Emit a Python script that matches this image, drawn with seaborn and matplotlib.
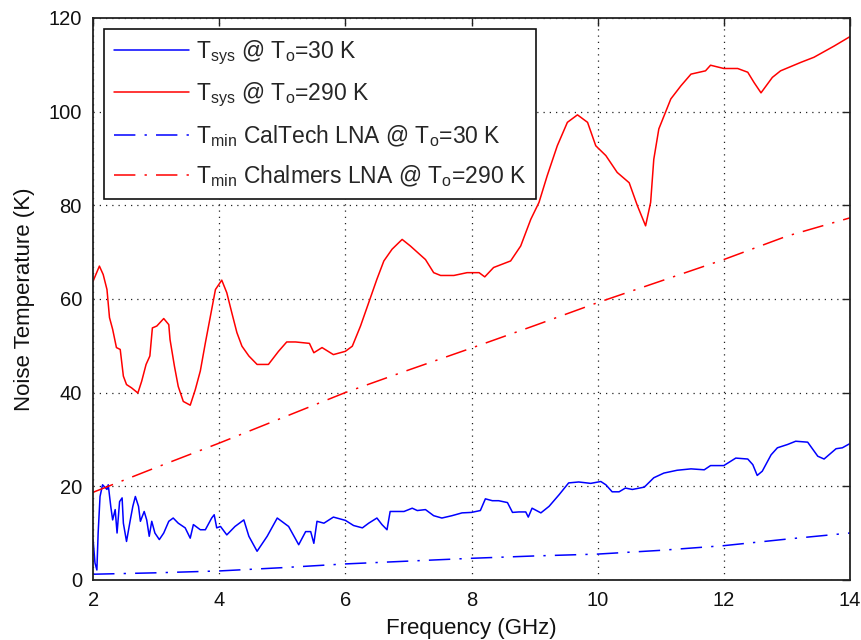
import matplotlib
matplotlib.use('Agg')
import matplotlib.pyplot as plt
import seaborn as sns

# Tsys @ To=30 K (blue solid)
blue_f = [2.0, 2.03, 2.06, 2.08, 2.11, 2.15, 2.22, 2.24, 2.28, 2.31, 2.35, 2.38, 2.42, 2.46, 2.48,
          2.53, 2.59, 2.63, 2.67, 2.72, 2.75, 2.81, 2.85, 2.89, 2.93, 2.98, 3.05, 3.12, 3.2, 3.27,
          3.35, 3.46, 3.54, 3.59, 3.7, 3.78, 3.88, 3.92, 3.96, 4.02, 4.12, 4.25, 4.39, 4.47, 4.6,
          4.76, 4.92, 5.1, 5.26, 5.37, 5.45, 5.5, 5.55, 5.66, 5.81, 6.0, 6.13, 6.27, 6.37, 6.5,
          6.58, 6.66, 6.71, 6.93, 7.06, 7.14, 7.27, 7.4, 7.53, 7.69, 7.85, 8.0, 8.14, 8.22, 8.33,
          8.43, 8.57, 8.65, 8.75, 8.86, 8.9, 8.96, 9.1, 9.23, 9.39, 9.54, 9.7, 9.89, 10.05, 10.13,
          10.23, 10.34, 10.44, 10.55, 10.74, 10.89, 11.05, 11.26, 11.48, 11.69, 11.79, 12.0, 12.19,
          12.38, 12.46, 12.53, 12.61, 12.75, 12.85, 13.01, 13.14, 13.33, 13.49, 13.59, 13.78, 13.88, 14.0]
blue_t = [8.6, 3.6, 2.1, 10.0, 17.8, 20.3, 19.3, 20.3, 15.7, 12.8, 15.0, 10.0, 16.7, 17.5, 12.1,
          8.2, 12.8, 15.7, 17.8, 15.7, 12.5, 14.6, 12.8, 9.3, 12.5, 10.0, 8.6, 10.0, 12.5, 13.2,
          12.1, 11.1, 8.9, 11.8, 10.7, 10.7, 13.2, 13.9, 11.1, 11.4, 9.6, 11.4, 12.8, 9.3, 6.1,
          9.3, 13.2, 11.4, 7.5, 10.3, 10.3, 7.8, 12.5, 12.1, 13.4, 12.7, 11.6, 11.1, 12.1, 13.2,
          11.8, 10.7, 14.6, 14.6, 15.3, 14.8, 15.0, 13.7, 13.2, 13.7, 14.3, 14.4, 14.8, 17.3, 16.9,
          16.9, 16.5, 14.4, 14.5, 14.5, 13.4, 15.3, 14.3, 15.7, 18.2, 20.7, 20.9, 20.6, 21.0, 20.3,
          18.8, 18.8, 19.6, 19.3, 19.8, 21.8, 22.8, 23.4, 23.7, 23.5, 24.4, 24.4, 26.0,
          25.8, 24.6, 22.3, 23.2, 26.7, 28.2, 28.9, 29.6, 29.4, 26.4, 25.8, 28.0, 28.2, 29.1]

# Tsys @ To=290 K (red solid)
red_f = [2.0, 2.1, 2.16, 2.22, 2.26, 2.31, 2.37, 2.43, 2.48, 2.53, 2.61, 2.71, 2.77, 2.84, 2.9,
         2.94, 3.01, 3.12, 3.2, 3.22, 3.29, 3.35, 3.43, 3.54, 3.62, 3.7, 3.78, 3.86, 3.94, 4.04,
         4.12, 4.2, 4.28, 4.36, 4.47, 4.6, 4.78, 4.94, 5.07, 5.21, 5.43, 5.5, 5.63, 5.81, 6.0,
         6.11, 6.24, 6.37, 6.5, 6.61, 6.74, 6.9, 7.03, 7.27, 7.4, 7.51, 7.72, 7.93, 8.12, 8.21,
         8.35, 8.62, 8.78, 8.94, 9.07, 9.2, 9.36, 9.52, 9.68, 9.84, 9.97, 10.13, 10.31, 10.5,
         10.63, 10.76, 10.84, 10.89, 10.97, 11.16, 11.32, 11.48, 11.71, 11.79, 12.0, 12.22, 12.38,
         12.48, 12.59, 12.77, 12.9, 13.22, 13.43, 13.75, 14.0]
red_t = [63.8, 67.0, 65.2, 62.0, 56.0, 53.5, 49.6, 49.2, 43.5, 41.7, 41.0, 39.9, 42.4, 46.0, 47.8,
         53.8, 54.2, 55.8, 54.5, 51.3, 45.6, 41.3, 38.1, 37.3, 40.6, 44.6, 50.6, 56.3, 62.0, 64.0,
         61.3, 57.0, 52.8, 49.9, 47.8, 46.0, 46.0, 48.8, 50.8, 50.8, 50.5, 48.5, 49.6, 48.1, 48.8,
         49.9, 54.2, 59.2, 64.2, 68.1, 70.6, 72.7, 71.3, 68.4, 65.6, 65.0, 65.0, 65.6, 65.6, 64.7,
         66.7, 68.1, 71.3, 77.0, 80.6, 86.3, 92.7, 97.7, 99.3, 97.7, 92.7, 90.6, 87.0, 84.8,
         79.9, 75.6, 80.6, 89.8, 96.3, 102.7, 105.5, 108.0, 108.7, 109.9, 109.2, 109.2, 108.4,
         106.2, 104.0, 107.3, 108.7, 110.5, 111.6, 114.0, 116.0]

# Tmin curves (dash-dot)
tmin_f = [2, 3, 4, 5, 6, 7, 8, 9, 10, 11, 12, 13, 14]
caltech_t = [1.2, 1.5, 1.9, 2.6, 3.4, 4.0, 4.6, 5.1, 5.5, 6.3, 7.3, 8.7, 10.0]
chalmers_t = [18.7, 24.0, 29.2, 34.6, 40.0, 44.8, 49.5, 54.3, 59.2, 63.8, 68.4, 73.4, 77.3]

labels = [r'T$_\mathregular{sys}$ @ T$_\mathregular{o}$=30 K',
          r'T$_\mathregular{sys}$ @ T$_\mathregular{o}$=290 K',
          r'T$_\mathregular{min}$ CalTech LNA @ T$_\mathregular{o}$=30 K',
          r'T$_\mathregular{min}$ Chalmers LNA @ T$_\mathregular{o}$=290 K']

sns.set_theme(style='white')
plt.rcParams['font.family'] = ['Liberation Sans', 'DejaVu Sans']
plt.rcParams['mathtext.fontset'] = 'custom'
plt.rcParams['mathtext.rm'] = 'Liberation Sans'

fig = plt.figure(figsize=(8.62, 6.4), dpi=100)
ax = fig.add_axes([0.108, 0.094, 0.878, 0.878])

dashdot = (0, (14, 6, 1.5, 6))
sns.lineplot(x=blue_f, y=blue_t, ax=ax, color='#0000ff', lw=1.1, sort=False, label=labels[0])
sns.lineplot(x=red_f, y=red_t, ax=ax, color='#ff0000', lw=1.1, sort=False, label=labels[1])
sns.lineplot(x=tmin_f, y=caltech_t, ax=ax, color='#0000ff', lw=1.1, linestyle=dashdot, label=labels[2])
sns.lineplot(x=tmin_f, y=chalmers_t, ax=ax, color='#ff0000', lw=1.1, linestyle=dashdot, label=labels[3])

ax.set_xlim(2, 14)
ax.set_ylim(0, 120)
ax.set_xticks(range(2, 15, 2))
ax.set_yticks(range(0, 121, 20))
ax.grid(True, color='#222222', linestyle=(0, (1, 4)), lw=0.9)
for s in ax.spines.values():
    s.set_color('#222222')
    s.set_linewidth(1.3)
ax.tick_params(direction='in', length=6, width=1, colors='#222222', labelcolor='#111111',
               labelsize=14.5, top=True, right=True, pad=8)
ax.set_xlabel('Frequency (GHz)', fontsize=16, color='#111111', labelpad=6)
ax.set_ylabel('Noise Temperature (K)', fontsize=16, color='#111111', labelpad=10)

leg = ax.legend(loc='upper left', bbox_to_anchor=(0.015, 0.98), fontsize=16.5, frameon=True,
                fancybox=False, edgecolor='#111111', framealpha=1, handlelength=3.3,
                labelspacing=0.62, borderpad=0.4, handletextpad=0.3, borderaxespad=0)
leg.get_frame().set_linewidth(1.2)

fig.savefig('out.png', dpi=100)
